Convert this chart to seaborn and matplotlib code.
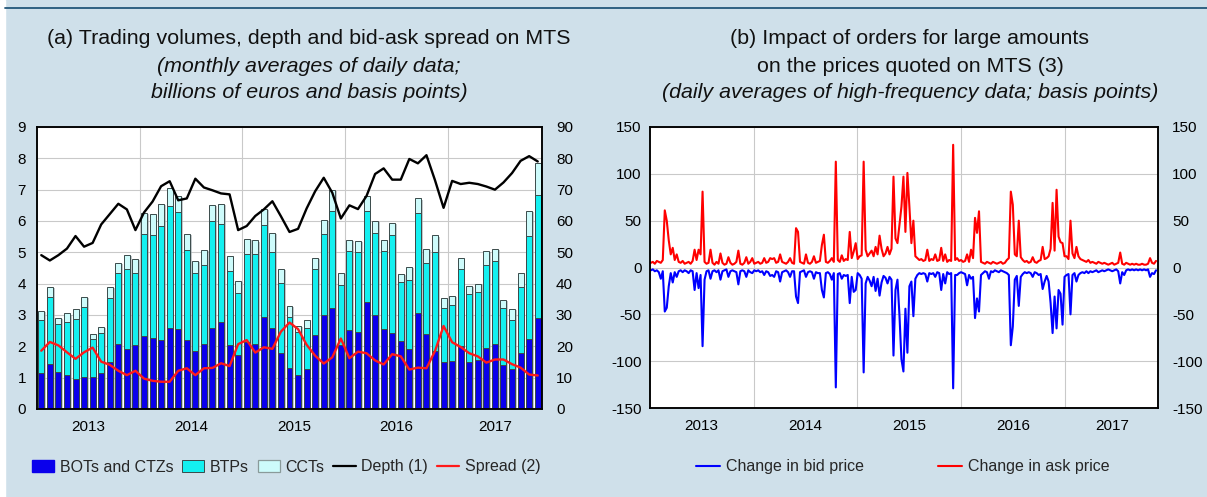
import matplotlib
matplotlib.use("Agg")
import matplotlib.pyplot as plt
import matplotlib.patheffects as pe
from matplotlib.lines import Line2D
from matplotlib.patches import Patch, Rectangle
import numpy as np
import pandas as pd
import seaborn as sns

# ── Panel (a): monthly averages, Jan 2013 - Nov 2017 (billions / bp) ─────────
months = pd.date_range("2013-01-01", periods=59, freq="MS").strftime("%Y-%m").tolist()

bots = [1.16, 1.43, 1.18, 1.07, 0.95, 1.03, 1.02, 1.14, 1.51, 2.06, 1.92, 2.03,
        2.34, 2.28, 2.20, 2.59, 2.56, 2.21, 1.85, 2.06, 2.59, 2.78, 2.03, 1.71,
        2.15, 2.09, 2.93, 2.57, 1.80, 1.32, 1.10, 1.28, 2.35, 3.00, 3.23, 2.05,
        2.53, 2.45, 3.40, 3.00, 2.56, 2.43, 2.16, 1.90, 3.05, 2.40, 1.84, 1.50,
        1.54, 2.00, 1.50, 1.56, 1.96, 2.09, 1.40, 1.28, 1.80, 2.23, 2.92]
btps = [1.68, 2.13, 1.52, 1.70, 1.91, 2.23, 1.22, 1.27, 2.04, 2.29, 2.56, 2.32,
        3.26, 3.28, 3.64, 3.89, 3.74, 2.88, 2.48, 2.52, 3.42, 3.14, 2.39, 2.00,
        2.81, 2.86, 2.93, 2.45, 2.23, 1.61, 1.35, 1.30, 2.13, 2.58, 3.10, 1.91,
        2.52, 2.56, 2.92, 2.62, 2.47, 3.13, 1.89, 2.23, 3.20, 2.26, 3.16, 1.71,
        1.77, 2.46, 2.16, 2.18, 2.65, 2.64, 1.81, 1.55, 2.08, 3.30, 3.90]
ccts = [0.28, 0.34, 0.22, 0.28, 0.34, 0.32, 0.15, 0.21, 0.35, 0.32, 0.43, 0.44,
        0.65, 0.67, 0.71, 0.58, 0.50, 0.51, 0.40, 0.51, 0.51, 0.63, 0.46, 0.37,
        0.48, 0.43, 0.53, 0.61, 0.45, 0.37, 0.20, 0.25, 0.34, 0.45, 0.65, 0.37,
        0.35, 0.36, 0.48, 0.38, 0.37, 0.39, 0.27, 0.39, 0.47, 0.45, 0.54, 0.34,
        0.29, 0.36, 0.28, 0.26, 0.44, 0.37, 0.28, 0.35, 0.47, 0.80, 1.02]
depth = [4.91, 4.74, 4.91, 5.12, 5.52, 5.18, 5.30, 5.89, 6.22, 6.55, 6.37, 5.71,
         6.27, 6.62, 7.11, 7.27, 6.66, 6.72, 7.35, 7.07, 6.98, 6.88, 6.85, 5.71,
         5.84, 6.16, 6.37, 6.63, 6.15, 5.65, 5.75, 6.40, 6.95, 7.38, 6.90, 6.08,
         6.50, 6.38, 6.80, 7.50, 7.68, 7.32, 7.32, 7.98, 7.84, 8.10, 7.30, 6.42,
         7.28, 7.18, 7.22, 7.18, 7.10, 7.00, 7.23, 7.53, 7.92, 8.07, 7.90]
spread = [18.6, 21.4, 20.3, 18.1, 16.0, 18.1, 19.6, 15.1, 14.1, 12.2, 10.8, 12.2,
          9.7, 9.0, 8.7, 8.7, 12.2, 13.0, 10.8, 13.0, 13.1, 14.6, 13.7, 20.7,
          22.0, 18.0, 19.7, 19.2, 24.7, 27.6, 25.5, 20.5, 17.0, 14.5, 16.5, 22.5,
          16.2, 18.3, 17.8, 15.5, 14.2, 17.5, 16.8, 12.6, 13.2, 13.0, 18.5, 26.5,
          21.3, 19.8, 17.8, 16.8, 14.8, 15.8, 15.8, 14.3, 13.2, 11.0, 10.7]

years = ["2013", "2014", "2015", "2016", "2017"]

# ── Panel (b): weekly readings of the daily series (basis points) ────────────
ask_2013 = [5, 6, 4, 7, 6, 5, 8, 61, 50, 29, 14, 21, 8, 14, 6, 5, 7, 4, 5, 6, 4, 7,
            19, 8, 19, 14, 81, 6, 4, 5, 19, 5, 3, 6, 4, 15, 5, 3, 4, 11, 5, 3, 4, 6,
            18, 4, 3, 5, 11, 4, 6, 10]
ask_2014 = [4, 5, 6, 4, 5, 10, 5, 6, 10, 9, 10, 5, 6, 14, 6, 5, 4, 6, 10, 5, 4, 42,
            38, 6, 5, 4, 14, 5, 4, 6, 12, 5, 6, 7, 24, 35, 6, 5, 7, 10, 6, 113, 8, 6,
            13, 7, 9, 8, 38, 10, 17, 26]
ask_2015 = [9, 12, 13, 113, 19, 12, 15, 18, 12, 22, 14, 34, 20, 12, 15, 22, 14, 20,
            97, 31, 26, 45, 65, 97, 38, 101, 65, 26, 50, 12, 10, 8, 9, 7, 8, 19, 7, 9,
            8, 14, 7, 8, 21, 7, 14, 6, 8, 7, 131, 8, 10, 7]
ask_2016 = [8, 6, 7, 14, 6, 19, 10, 53, 37, 60, 6, 5, 4, 6, 5, 4, 6, 5, 4, 5, 6, 4,
            5, 8, 10, 81, 67, 14, 12, 50, 11, 8, 6, 7, 5, 6, 11, 6, 5, 7, 8, 22, 9,
            10, 12, 20, 69, 18, 83, 33, 27, 26]
ask_2017 = [12, 12, 9, 50, 15, 10, 22, 12, 9, 8, 7, 6, 8, 5, 6, 5, 4, 6, 5, 4, 5, 4,
            3, 4, 5, 3, 4, 5, 16, 4, 3, 5, 4, 3, 4, 3, 4, 3, 3, 4, 3, 3, 4, 10, 5, 4, 7]

bid_2013 = [-3, -2, -4, -3, -5, -12, -4, -47, -43, -20, -6, -16, -5, -10, -4, -3, -5,
            -3, -4, -6, -3, -4, -24, -6, -22, -8, -84, -13, -4, -3, -12, -4, -3, -5,
            -3, -13, -4, -3, -2, -10, -4, -3, -4, -5, -18, -4, -3, -4, -10, -3, -5, -6]
bid_2014 = [-3, -4, -3, -5, -4, -8, -4, -5, -9, -8, -10, -4, -5, -15, -5, -4, -3, -5,
            -10, -4, -4, -31, -38, -5, -4, -3, -10, -5, -4, -5, -12, -5, -6, -6, -24,
            -32, -6, -5, -7, -13, -6, -128, -7, -6, -12, -8, -9, -8, -38, -10, -26, -24]
bid_2015 = [-6, -8, -12, -112, -17, -10, -14, -20, -10, -25, -12, -30, -16, -9, -11,
            -17, -10, -13, -94, -24, -13, -51, -98, -111, -44, -91, -20, -15, -52, -12,
            -8, -6, -7, -6, -7, -15, -6, -7, -6, -10, -5, -6, -24, -7, -17, -5, -7, -6,
            -129, -8, -8, -6]
bid_2016 = [-5, -6, -7, -19, -8, -12, -10, -54, -33, -47, -8, -6, -4, -5, -12, -4, -5,
            -3, -4, -5, -3, -4, -5, -6, -8, -83, -63, -13, -9, -41, -10, -7, -5, -6, -5,
            -6, -10, -5, -6, -8, -7, -23, -15, -9, -15, -38, -70, -31, -65, -24, -28, -61]
bid_2017 = [-10, -8, -7, -50, -8, -6, -15, -8, -6, -5, -6, -4, -6, -4, -5, -4, -3, -5,
            -4, -3, -4, -3, -2, -3, -4, -3, -2, -4, -17, -5, -8, -3, -2, -3, -2, -3, -2,
            -3, -2, -3, -2, -3, -2, -10, -6, -7, -3]

ask = ask_2013 + ask_2014 + ask_2015 + ask_2016 + ask_2017
bid = bid_2013 + bid_2014 + bid_2015 + bid_2016 + bid_2017
weeks = pd.date_range("2013-01-04", periods=len(ask), freq="7D")

# ── Style ────────────────────────────────────────────────────────────────────
BG = "#cfe0ea"
GRID = "#c9c9c9"
BOT_C, BTP_C, CCT_C = "#0a00ec", "#14f0f0", "#cdfbfb"
EDGE = "#3a4a4a"
W, H = 1207, 497

sns.set_theme(style="white")
plt.rcParams["font.family"] = ["Liberation Sans", "DejaVu Sans"]
plt.rcParams["axes.unicode_minus"] = False

fig = plt.figure(figsize=(W / 100, H / 100), dpi=100, facecolor=BG)
fig.patches.append(Rectangle((0, 0), 5 / W, 1, transform=fig.transFigure,
                             color="white", zorder=0))
fig.add_artist(Line2D([5 / W, 1], [1 - 8 / H, 1 - 8 / H], color="#23577a", lw=1.3))


def style_axis(ax):
    ax.set_facecolor("white")
    for s in ax.spines.values():
        s.set_color("black")
        s.set_linewidth(1.1)
    ax.tick_params(length=0, labelsize=11, pad=8, colors="black")
    ax.set_xlabel("")
    ax.set_ylabel("")


# ── (a) bars + lines ─────────────────────────────────────────────────────────
ax1 = fig.add_axes([37 / W, 88 / H, 505 / W, 282 / H])
bar_df = pd.DataFrame({"month": months, "bots": bots, "btps": btps, "ccts": ccts})
bar_df["btp_top"] = bar_df["bots"] + bar_df["btps"]
bar_df["cct_top"] = bar_df["btp_top"] + bar_df["ccts"]

sns.barplot(data=bar_df, x="month", y="cct_top", color=CCT_C, saturation=1,
            width=0.7, edgecolor=EDGE, linewidth=0.7, ax=ax1)
for p in ax1.patches:
    p.set_path_effects([pe.SimplePatchShadow(offset=(1.3, -0.8), shadow_rgbFace="#9aa6aa",
                                             alpha=0.6), pe.Normal()])
sns.barplot(data=bar_df, x="month", y="btp_top", color=BTP_C, saturation=1,
            width=0.7, edgecolor=EDGE, linewidth=0.7, ax=ax1)
sns.barplot(data=bar_df, x="month", y="bots", color=BOT_C, saturation=1,
            width=0.7, edgecolor=EDGE, linewidth=0.7, ax=ax1)
sns.lineplot(x=np.arange(len(depth)), y=depth, color="black", lw=1.7, ax=ax1, zorder=5)

ax1.set_axisbelow(True)
ax1.grid(axis="y", color=GRID, lw=0.8)
for xv in [11.5, 23.5, 35.5, 47.5]:
    ax1.axvline(xv, color=GRID, lw=0.8, zorder=0.5)
ax1.set_ylim(0, 9)
ax1.set_yticks(range(10))
ax1.set_xlim(-0.5, 58.5)
ax1.set_xticks([5.5, 17.5, 29.5, 41.5, 53])
ax1.set_xticklabels(years)
style_axis(ax1)

ax1r = ax1.twinx()
sns.lineplot(x=np.arange(len(spread)), y=spread, color="#ff1a1a", lw=1.7, ax=ax1r)
ax1r.set_ylim(0, 90)
ax1r.set_yticks(range(0, 91, 10))
ax1r.set_xlim(-0.5, 58.5)
style_axis(ax1r)
ax1r.tick_params(pad=10)

# ── (b) bid / ask impact ─────────────────────────────────────────────────────
ax2 = fig.add_axes([650 / W, 89 / H, 508 / W, 281 / H])
sns.lineplot(x=weeks, y=ask, color="#ff0000", lw=1.5, ax=ax2)
sns.lineplot(x=weeks, y=bid, color="#0000ff", lw=1.5, ax=ax2)
ax2.set_axisbelow(True)
ax2.grid(axis="y", color=GRID, lw=0.8)
for yr in ["2014-01-01", "2015-01-01", "2016-01-01", "2017-01-01"]:
    ax2.axvline(pd.Timestamp(yr), color=GRID, lw=0.8, zorder=0.5)
ax2.set_xlim(pd.Timestamp("2013-01-01"), pd.Timestamp("2017-11-24"))
ax2.set_xticks(pd.to_datetime(["2013-07-02", "2014-07-02", "2015-07-02",
                               "2016-07-02", "2017-06-14"]))
ax2.set_xticklabels(years)
ax2.set_ylim(-150, 150)
ax2.set_yticks(range(-150, 151, 50))
style_axis(ax2)
ax2.tick_params(axis="y", pad=6)

ax2r = ax2.twinx()
ax2r.set_ylim(-150, 150)
ax2r.set_yticks(range(-150, 151, 50))
style_axis(ax2r)
ax2r.tick_params(pad=10)

# ── Titles ───────────────────────────────────────────────────────────────────
def title_block(xc, lines):
    for i, (txt, style) in enumerate(lines):
        fig.text(xc / W, 1 - (39 + 27 * i) / H, txt, ha="center", va="center",
                 fontsize=15.4, style=style, color="#111111")


title_block(309, [("(a) Trading volumes, depth and bid-ask spread on MTS", "normal"),
                  ("(monthly averages of daily data;", "italic"),
                  ("billions of euros and basis points)", "italic")])
title_block(910, [("(b) Impact of orders for large amounts", "normal"),
                  ("on the prices quoted on MTS (3)", "normal"),
                  ("(daily averages of high-frequency data; basis points)", "italic")])

# ── Legends ──────────────────────────────────────────────────────────────────
h1 = [Patch(facecolor=BOT_C, edgecolor=BOT_C),
      Patch(facecolor=BTP_C, edgecolor=EDGE, lw=0.7),
      Patch(facecolor=CCT_C, edgecolor="#8a9a9a", lw=0.9),
      Line2D([], [], color="black", lw=1.6),
      Line2D([], [], color="#ff1a1a", lw=1.6)]
fig.legend(h1, ["BOTs and CTZs", "BTPs", "CCTs", "Depth (1)", "Spread (2)"],
           loc="center", bbox_to_anchor=(286 / W, 1 - 467 / H), ncol=5, frameon=False,
           fontsize=11.5, handlelength=1.4, handletextpad=0.35, columnspacing=0.55)

h2 = [Line2D([], [], color="#0000ff", lw=1.5), Line2D([], [], color="#ff0000", lw=1.5)]
fig.legend(h2, ["Change in bid price", "Change in ask price"],
           loc="center", bbox_to_anchor=(903 / W, 1 - 467 / H), ncol=2, frameon=False,
           fontsize=11.5, handlelength=1.5, handletextpad=0.4, columnspacing=4.6)

fig.savefig("out.png", dpi=100, facecolor=BG)
